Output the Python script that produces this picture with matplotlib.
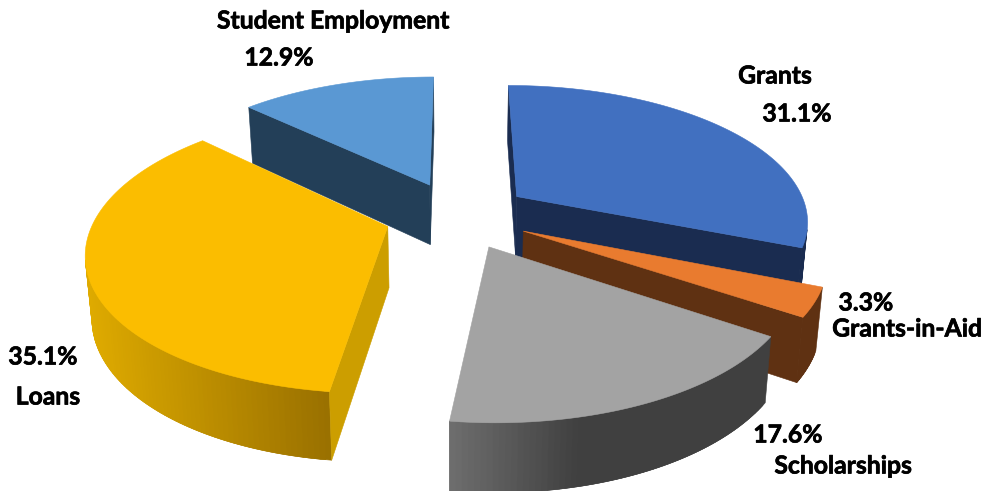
import numpy as np
import matplotlib
matplotlib.use("Agg")
import matplotlib.pyplot as plt
import matplotlib.patheffects as pe
from matplotlib.patches import Polygon
from matplotlib.colors import to_rgb

# Funding sources, clockwise from twelve o'clock
categories = ["Grants", "Grants-in-Aid", "Scholarships", "Loans", "Student Employment"]
shares = [31.1, 3.3, 17.6, 35.1, 12.9]
top_colors = ["#4170C0", "#E97B2F", "#A3A3A3", "#FBBD00", "#5A98D3"]
cut_colors = ["#1A2C50", "#5F3112", "#404040", "#CC9E00", "#233F58"]
wall_light = ["#1A2C50", "#5F3112", "#6E6E6E", "#DFAB00", "#233F58"]
wall_dark = ["#1A2C50", "#5F3112", "#404040", "#997000", "#233F58"]

# Painter's order, far slices first
draw_order = [4, 0, 1, 3, 2]

# Perspective camera settings in figure pixels
VX, VY = 457.5, 215.0
AX, AY, PERSP = 292.0, 135.0, 0.165
EXPLODE = 0.25
W, H = 984, 491


def project(px, py, lower=False):
    d = 1 + PERSP * py
    x = VX + AX * px / d
    y = VY - AY * py / d
    if lower:
        drop = 56 + (y - 106) * 0.044
        x = x + (VX - x) * 0.018
        y = y + drop
    return np.array([x, y])


def signed_area(pts):
    p = np.asarray(pts)
    q = np.roll(p, -1, axis=0)
    return 0.5 * np.sum(p[:, 0] * q[:, 1] - q[:, 0] * p[:, 1])


def add_face(ax, pts, color, z, lw=0.4):
    ax.add_patch(Polygon(pts, closed=True, facecolor=color, edgecolor=color,
                         linewidth=lw, zorder=z))


fig = plt.figure(figsize=(W / 100, H / 100), dpi=100)
ax = fig.add_axes([0, 0, 1, 1])
ax.set_xlim(0, W)
ax.set_ylim(H, 0)
ax.axis("off")

edges = np.concatenate([[0], np.cumsum(shares)]) / sum(shares) * 2 * np.pi

for layer, i in enumerate(draw_order):
    t0, t1 = edges[i], edges[i + 1]
    mid = 0.5 * (t0 + t1)
    ox, oy = EXPLODE * np.sin(mid), EXPLODE * np.cos(mid)
    angles = np.linspace(t0, t1, max(int((t1 - t0) * 60), 4))
    rim = [(ox + np.sin(a), oy + np.cos(a)) for a in angles]
    top = np.array([project(*p) for p in rim])
    bot = np.array([project(*p, lower=True) for p in rim])
    apex_t = project(ox, oy)
    apex_b = project(ox, oy, lower=True)
    base = layer * 10

    # Curved outer wall, shaded across its visible width; each strip runs
    # under its neighbour so that no seams show between them
    light, dark = np.array(to_rgb(wall_light[i])), np.array(to_rgb(wall_dark[i]))
    x0, x1 = top[:, 0].min(), top[:, 0].max()
    if i == 2:
        x1 = x0 + 0.4 * (x1 - x0)
    n = len(rim)
    for k in range(n - 1):
        if signed_area([top[k], top[k + 1], bot[k + 1], bot[k]]) < 0:
            e = min(k + 2, n - 1)
            strip = [top[k], top[k + 1], top[e], bot[e], bot[k + 1], bot[k]]
            f = np.clip((0.5 * (top[k, 0] + top[k + 1, 0]) - x0) / (x1 - x0), 0, 1)
            add_face(ax, strip, tuple(light + (dark - light) * f), base + 1 + k * 0.001)

    # Flat cut faces, only those turned toward the viewer
    face_a = [apex_t, top[0], bot[0], apex_b]
    face_b = [top[-1], apex_t, apex_b, bot[-1]]
    for face in (face_a, face_b):
        if signed_area(face) < 0:
            add_face(ax, face, cut_colors[i], base + 2)

    add_face(ax, np.vstack([[apex_t], top]), top_colors[i], base + 3)

# Labels
label_font = dict(family="Lato", weight="bold", fontsize=17.8, color="black",
                  ha="center", va="center", zorder=200,
                  path_effects=[pe.withStroke(linewidth=0.5, foreground="black")])
label_spots = [
    ("Student Employment", 333, 21), ("12.9%", 279, 58),
    ("Grants", 775, 76), ("31.1%", 797, 114),
    ("3.3%", 866, 303), ("Grants-in-Aid", 907, 329),
    ("35.1%", 43, 357), ("Loans", 48, 397),
    ("17.6%", 788, 435), ("Scholarships", 843, 466),
]
for text, x, y in label_spots:
    ax.text(x, y, text, **label_font)

fig.savefig("out.png", dpi=100, facecolor="white")
